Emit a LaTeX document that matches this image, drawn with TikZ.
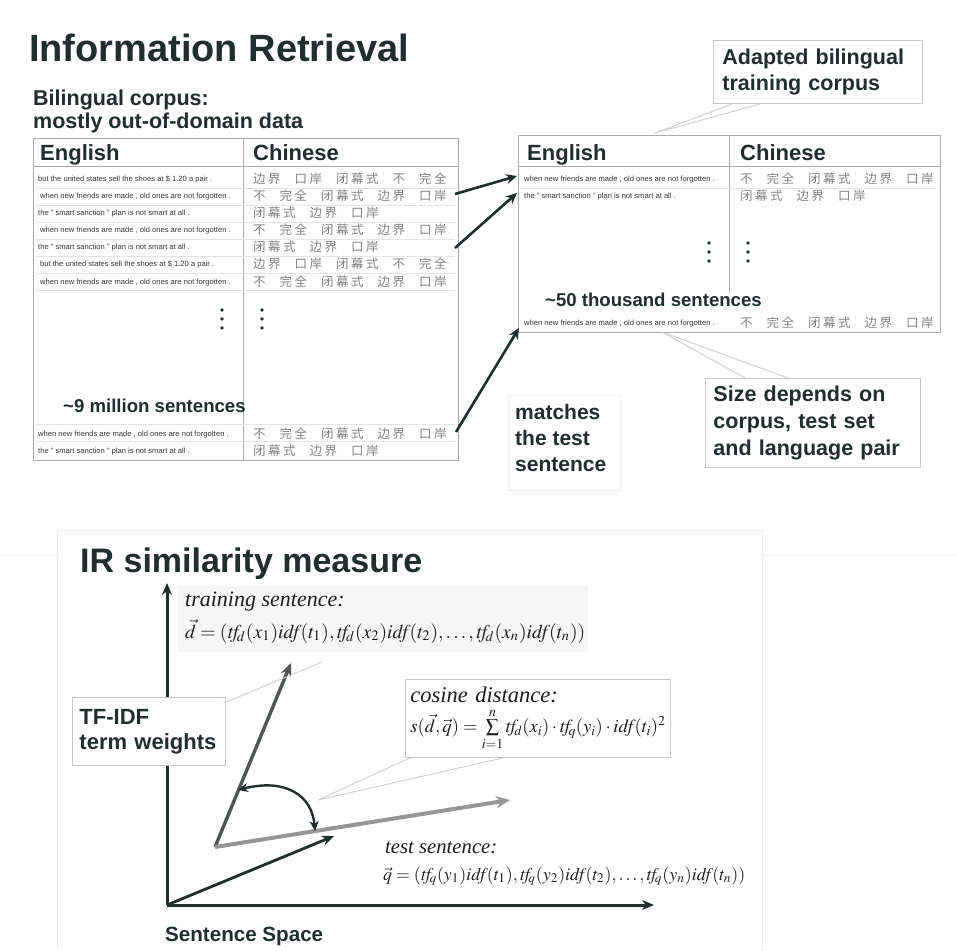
\documentclass[tikz,border=0pt]{standalone}
\usepackage{graphicx}
\usepackage{mathptmx}
\usepackage{fontspec}
\setmainfont{Liberation Serif}
\setsansfont{Liberation Sans}
\newfontfamily\cjkfont{Noto Sans CJK SC}
\usetikzlibrary{arrows.meta}
\definecolor{ink}{RGB}{32,46,46}
\definecolor{tframe}{RGB}{170,170,170}
\definecolor{rowsep}{RGB}{228,228,228}
\definecolor{zhgray}{RGB}{130,130,130}
\definecolor{engray}{RGB}{55,55,55}
\definecolor{boxline}{RGB}{200,200,200}
\definecolor{calloutc}{RGB}{205,205,205}
\definecolor{slidec}{RGB}{238,238,238}
\definecolor{dvecc}{RGB}{80,84,84}
\definecolor{qvecc}{RGB}{150,150,150}
\definecolor{formc}{RGB}{30,30,30}
\newcommand\zk{\kern2.5pt}
\newcommand\zsp{\hspace{14pt}}
\newcommand\zhA{边\zk 界\zsp 口\zk 岸\zsp 闭\zk 幕\zk 式\zsp 不\zsp 完\zk 全}
\newcommand\zhB{不\zsp 完\zk 全\zsp 闭\zk 幕\zk 式\zsp 边\zk 界\zsp 口\zk 岸}
\newcommand\zhC{闭\zk 幕\zk 式\zsp 边\zk 界\zsp 口\zk 岸}
\newcommand\enA{but the united states sell the shoes at \$ 1.20 a pair .}
\newcommand\enB{when new friends are made , old ones are not forgotten .}
\newcommand\enC{the " smart sanction " plan is not smart at all .}
\newcommand\mtf{\mathit{tf}\mkern-4mu}
\newcommand\midf{\mathit{idf}\mkern-1mu}
\begin{document}
\begin{tikzpicture}[x=1pt,y=-1pt,
  title/.style={font=\sffamily\bfseries\fontsize{38}{40}\selectfont, text=ink, anchor=base west, inner sep=0pt},
  hdr/.style={font=\sffamily\bfseries\fontsize{22}{26}\selectfont, text=ink, anchor=base west, inner sep=0pt},
  big/.style={font=\sffamily\bfseries\fontsize{21.5}{23.5}\selectfont, text=ink, anchor=base west, inner sep=0pt},
  mid/.style={font=\sffamily\bfseries\fontsize{18.6}{22}\selectfont, text=ink, anchor=base west, inner sep=0pt},
  en/.style={font=\sffamily\fontsize{7.6}{9}\selectfont, text=engray, anchor=base west, inner sep=0pt},
  zh/.style={font=\cjkfont\fontsize{12.5}{15}\selectfont, text=zhgray, anchor=base west, inner sep=0pt},
  lblbox/.style={draw=boxline, fill=white, line width=0.9pt, anchor=north west, align=left, text=ink,
     font=\sffamily\bfseries\fontsize{21.5}{26}\selectfont},
  itl/.style={font=\rmfamily\itshape\fontsize{22}{26}\selectfont, text=formc, anchor=base west, inner sep=0pt},
  frm/.style={text=formc, anchor=base west, inner sep=0pt},
  tbl/.style={draw=tframe, line width=0.8pt},
  rsep/.style={draw=rowsep, line width=0.6pt},
  callout/.style={draw=calloutc, line width=0.9pt},
  bigarrow/.style={draw=ink, line width=2.6pt, -{Stealth[length=11pt,width=10pt]}},
  axisarrow/.style={draw=ink, line width=3pt, -{Stealth[length=12pt,width=10pt]}},
  dot/.style={fill=ink}
]
\useasboundingbox (0,0) rectangle (957,950);
\fill[white] (0,0) rectangle (957,950);

% faint slide frames
\draw[slidec, line width=0.8pt] (0,555) -- (57,555);
\draw[slidec, line width=0.8pt] (762,555) -- (957,555);
\draw[slidec, line width=0.8pt] (57,950) -- (57,530) -- (762,530) -- (762,950);

% ---------- top slide ----------
\node[title] (t1) at (29,62) {Information Retrieval};
\node[big] (bc1) at (33,105) {Bilingual corpus:};
\node[big] (bc2) at (33,128) {mostly out-of-domain data};

% left table
\draw[tbl] (33,138) rectangle (458,460);
\draw[tbl] (243,138) -- (243,460);
\draw[tbl] (33,166) -- (458,166);
\foreach \yy in {188.5,205.5,222.5,239.5,256.5,273.5,290.5,424,441.5}
  \draw[rsep] (36,\yy) -- (455,\yy);
\node[hdr] (lEn) at (40,160) {English};
\node[hdr] (lZh) at (253,160) {Chinese};
\node[en] (le1) at (38,181) {\enA};
\node[en] (le2) at (40,198) {\enB};
\node[en] (le3) at (38,215) {\enC};
\node[en] (le4) at (40,232) {\enB};
\node[en] (le5) at (38,249) {\enC};
\node[en] (le6) at (40,266) {\enA};
\node[en] (le7) at (40,284) {\enB};
\node[zh] (lz1) at (253,183) {\zhA};
\node[zh] (lz2) at (253,200) {\zhB};
\node[zh] (lz3) at (253,217) {\zhC};
\node[zh] (lz4) at (253,234) {\zhB};
\node[zh] (lz5) at (253,251) {\zhC};
\node[zh] (lz6) at (253,268) {\zhA};
\node[zh] (lz7) at (253,286) {\zhB};
\foreach \yy in {310,319,328} {
  \fill[dot] (222,\yy) circle (1.9pt);
  \fill[dot] (262,\yy) circle (1.9pt);
}
\node[mid] (nine) at (63,412) {\textasciitilde 9 million sentences};
\node[en] (le8) at (38,436) {\enB};
\node[en] (le9) at (38,453) {\enC};
\node[zh] (lz8) at (253,438) {\zhB};
\node[zh] (lz9) at (253,455) {\zhC};

% right table
\draw[tbl] (518,135) rectangle (940,332);
\draw[tbl] (729,135) -- (729,292);
\draw[tbl] (518,166) -- (940,166);
\draw[rsep] (521,188.5) -- (937,188.5);
\node[hdr] (rEn) at (527,160) {English};
\node[hdr] (rZh) at (740,160) {Chinese};
\node[en] (re1) at (524,181) {\enB};
\node[en] (re2) at (524,198) {\enC};
\node[zh] (rz1) at (740,183) {\zhB};
\node[zh] (rz2) at (740,200) {\zhC};
\foreach \yy in {243,252,261} {
  \fill[dot] (709,\yy) circle (1.9pt);
  \fill[dot] (748,\yy) circle (1.9pt);
}
\node[mid] (fifty) at (545,306) {\textasciitilde 50 thousand sentences};
\node[en] (re3) at (524,325) {\enB};
\node[zh] (rz3) at (740,327) {\zhB};

% arrows left -> right
\coordinate (a1s) at (455,194);
\coordinate (a1e) at (517,176);
\coordinate (a2s) at (455,248);
\coordinate (a2e) at (517,193);
\coordinate (a3s) at (456,432);
\coordinate (a3e) at (519,328);
\draw[bigarrow] (a1s) -- (a1e);
\draw[bigarrow] (a2s) -- (a2e);
\draw[bigarrow] (a3s) -- (a3e);

% adapted corpus label
\node[lblbox, minimum width=209pt, minimum height=63pt, text width=191pt, inner xsep=9pt]
  (adapt) at (713,40) {Adapted bilingual\\training corpus};
\coordinate (adtip) at (655,133);
\draw[callout] (732,104) -- (adtip);
\draw[callout] (760,104) -- (adtip);

% matches the test sentence
\draw[draw=slidec, line width=0.7pt] (508,395) rectangle (620,490);
\node[big, font=\sffamily\bfseries\fontsize{21}{26}\selectfont, align=left, anchor=north west]
  (match) at (515,404) {matches\\the test\\sentence};

% size depends label
\coordinate (sztip) at (662,332);
\draw[callout] (sztip) -- (788,378);
\draw[callout] (sztip) -- (745,378);
\node[lblbox, minimum width=215pt, minimum height=89pt, text width=199pt, inner xsep=8pt,
  font=\sffamily\bfseries\fontsize{21.5}{27}\selectfont]
  (size) at (705,378) {Size depends on\\corpus, test set\\and language pair};

% ---------- lower slide ----------
\fill[gray!7] (178,586) rectangle (588,652);
\node[title, font=\sffamily\bfseries\fontsize{34}{38}\selectfont] (t2) at (80,572) {IR similarity measure};

\coordinate (O) at (167,905);
\coordinate (ytop) at (167,583);
\coordinate (xend) at (654,905);
\draw[axisarrow] (O) -- (ytop);
\draw[axisarrow] (O) -- (xend);
\node[hdr, font=\sffamily\bfseries\fontsize{20.6}{24}\selectfont] (space) at (165,941) {Sentence Space};

\node[itl] (trl) at (185,606) {training sentence:};
\node[frm] (trf) at (185,638) {\resizebox{400pt}{!}{$\vec{d}=(\mtf_d(x_1)\midf(t_1),\mtf_d(x_2)\midf(t_2),\ldots,\mtf_d(x_n)\midf(t_n))$}};

% vectors
\coordinate (P) at (215,847);
\coordinate (dtip) at (291,663);
\coordinate (qtip) at (510,800);
\coordinate (ttip) at (334,836);
\draw[draw=dvecc, line width=3.4pt, -{Stealth[length=13pt,width=11pt]}] (P) -- (dtip);
\draw[draw=qvecc, line width=4pt, -{Stealth[length=14pt,width=12pt]}] (P) -- (qtip);
\draw[draw=ink, line width=2.8pt, -{Stealth[length=12pt,width=10pt]}] (O) -- (ttip);
\coordinate (ang1) at (238,790);
\coordinate (ang2) at (315,831);
\draw[draw=ink, line width=2.4pt, {Stealth[length=10pt,width=9pt]}-{Stealth[length=10pt,width=9pt]}]
  (ang1) .. controls (285,778) and (312,795) .. (ang2);

% TF-IDF label
\node[lblbox, minimum width=153pt, minimum height=68pt, text width=139pt, inner xsep=7pt,
  font=\sffamily\bfseries\fontsize{22}{25}\selectfont] (tfidf) at (72,697) {TF-IDF\\term weights};
\coordinate (tftip) at (322,662);
\draw[callout] (tfidf.north east) ++(-2,6) -- (tftip);

% cosine distance box
\node[lblbox, minimum width=265pt, minimum height=78pt, text width=255pt, inner xsep=5pt, inner ysep=2pt,
  font=\rmfamily\itshape\fontsize{22.5}{33}\selectfont, text=formc] (cos) at (405,679)
  {cosine distance:\\[-3pt]\resizebox{255pt}{!}{$s(\vec{d},\vec{q})=\sum\limits_{i=1}^{n}\mtf_d(x_i)\cdot \mtf_q(y_i)\cdot \midf(t_i)^2$}};
\coordinate (costip) at (318,800);
\draw[callout] (cos.south west) ++(5,0) -- (costip);
\draw[callout] (cos.south west) ++(98,0) -- (costip);

% test sentence
\node[itl, font=\rmfamily\itshape\fontsize{20.7}{24}\selectfont] (tsl) at (385,853) {test sentence:};
\node[frm] (tsf) at (383,880) {\resizebox{362pt}{!}{$\vec{q}=(\mtf_q(y_1)\midf(t_1),\mtf_q(y_2)\midf(t_2),\ldots,\mtf_q(y_n)\midf(t_n))$}};
\end{tikzpicture}
\end{document}
